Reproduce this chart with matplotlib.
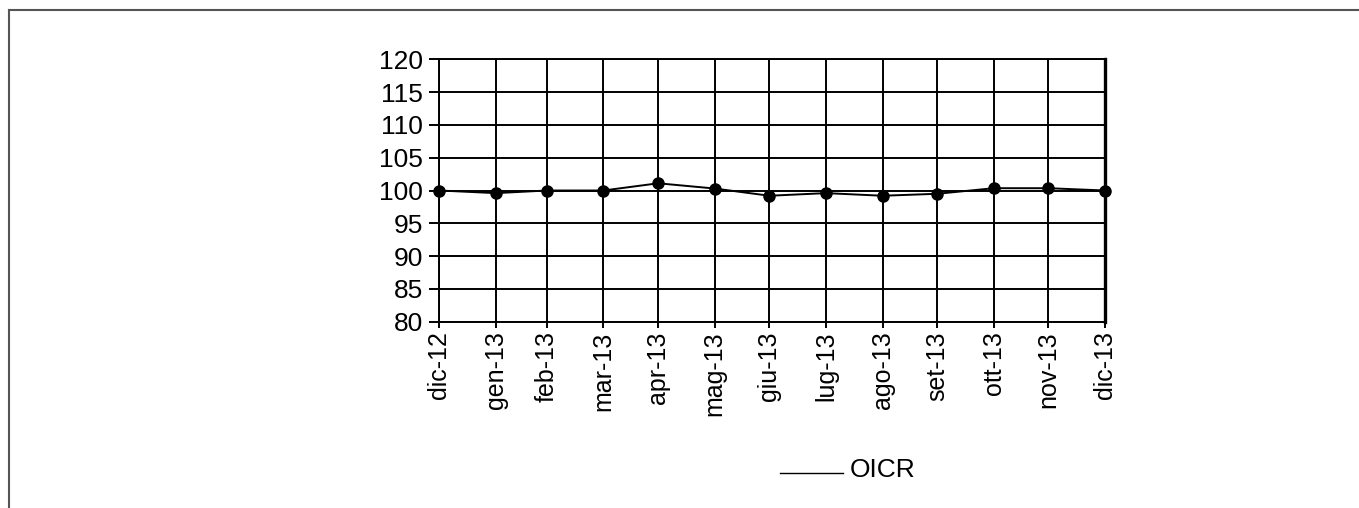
import datetime as dt
import matplotlib
matplotlib.use("Agg")
import matplotlib.pyplot as plt
from matplotlib.lines import Line2D

plt.rcParams['font.family'] = ['Liberation Sans', 'DejaVu Sans']

# data (month-end dates, date axis)
dates = [dt.date(2012, 12, 31), dt.date(2013, 1, 31), dt.date(2013, 2, 28),
         dt.date(2013, 3, 31), dt.date(2013, 4, 30), dt.date(2013, 5, 31),
         dt.date(2013, 6, 30), dt.date(2013, 7, 31), dt.date(2013, 8, 31),
         dt.date(2013, 9, 30), dt.date(2013, 10, 31), dt.date(2013, 11, 30),
         dt.date(2013, 12, 31)]
labels = ['dic-12', 'gen-13', 'feb-13', 'mar-13', 'apr-13', 'mag-13', 'giu-13',
          'lug-13', 'ago-13', 'set-13', 'ott-13', 'nov-13', 'dic-13']
oicr = [100.0, 99.6, 100.0, 100.0, 101.1, 100.3, 99.2,
        99.6, 99.2, 99.5, 100.35, 100.35, 100.0]
yticks = list(range(80, 121, 5))

fs = 19

fig = plt.figure(figsize=(13.59, 5.08), dpi=100)
ax = fig.add_axes([0.3233, 0.3667, 0.4898, 0.5166])

ax.plot(dates, oicr, color='black', lw=1.4, marker='o', ms=8, zorder=3,
        clip_on=False)

ax.set_xlim(dates[0], dates[-1])
ax.set_ylim(80, 120)
ax.set_yticks(yticks)
ax.set_xticks(dates)
ax.set_xticklabels(labels, rotation=90, fontsize=18)
ax.tick_params(axis='y', labelsize=fs, length=7, width=1.4, pad=5)
ax.tick_params(axis='x', length=4.5, width=1.4, pad=2.5)
ax.grid(True, color='black', lw=1.4)
ax.set_axisbelow(True)
for s in ['left', 'bottom', 'top']:
    ax.spines[s].set_linewidth(1.4)
ax.spines['right'].set_linewidth(2.4)

# legend drawn by hand below the chart
fig.add_artist(Line2D([780 / 1359, 843 / 1359], [1 - 473 / 508, 1 - 473 / 508],
                      color='black', lw=1.0))
fig.text(850 / 1359, 1 - 477 / 508, 'OICR', fontsize=fs, va='baseline', ha='left')

# outer frame (only top and left visible)
fig.add_artist(Line2D([9 / 1359, 9 / 1359], [0, 1 - 10 / 508], color='#555555', lw=1.5))
fig.add_artist(Line2D([9 / 1359, 1], [1 - 10 / 508, 1 - 10 / 508], color='#555555', lw=1.5))

fig.savefig('out.png', dpi=100)
